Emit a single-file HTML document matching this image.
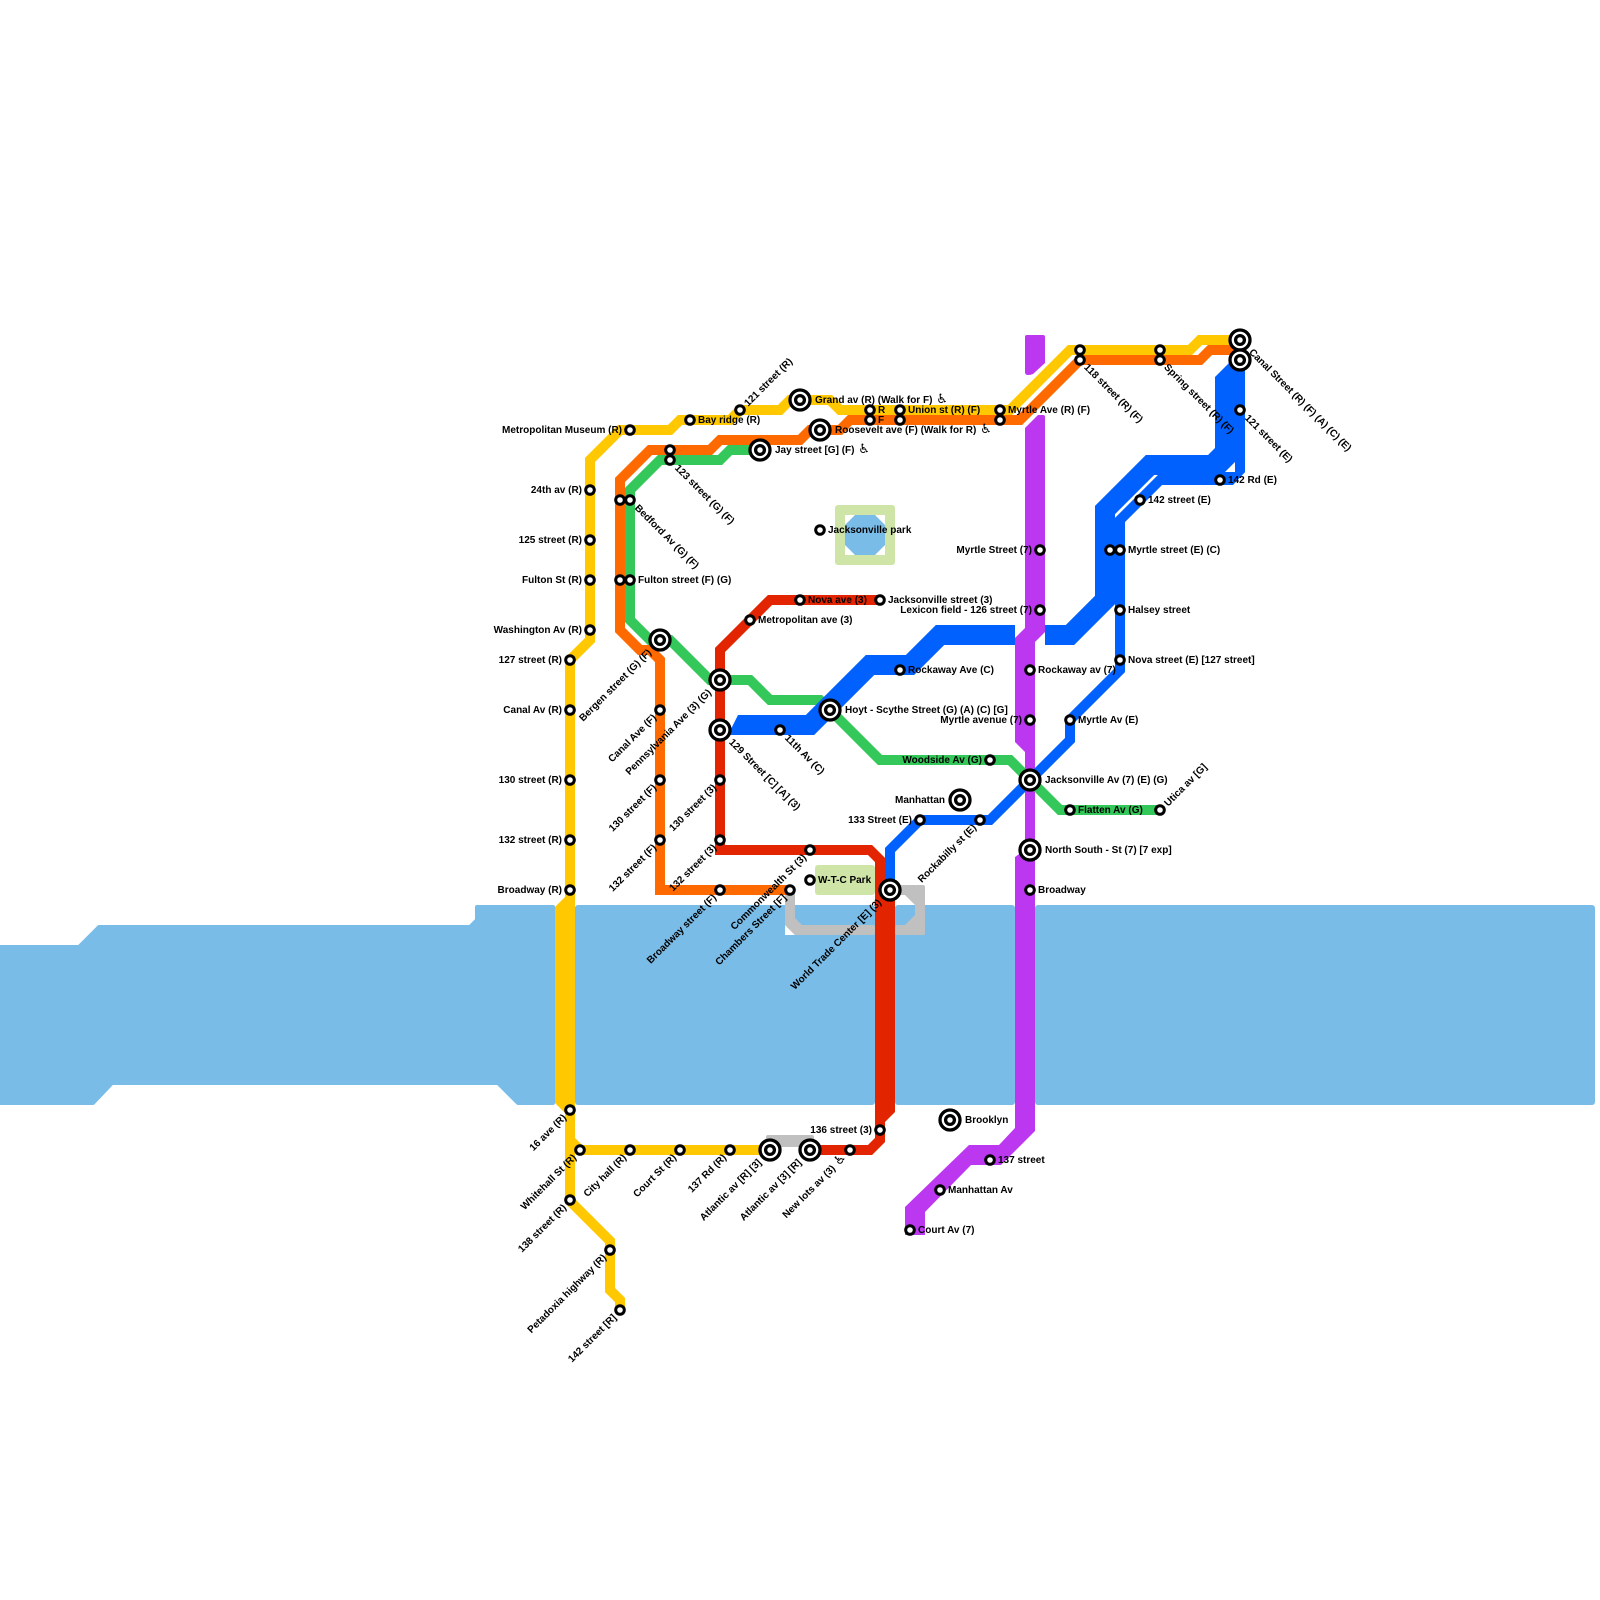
<!DOCTYPE html>
<html><head><meta charset="utf-8">
<style>
html,body{margin:0;padding:0;background:#fff}
svg{display:block}
text{font-family:"Liberation Sans",Arial,sans-serif;font-size:10px;font-weight:bold;fill:#000}
.a{font-family:"DejaVu Sans",sans-serif;font-weight:normal;font-size:13px}
.l{fill:none;stroke-width:10;stroke-linejoin:miter;stroke-linecap:butt}
.s{fill:#fff;stroke:#000;stroke-width:3}
.r text{text-anchor:end}
</style></head><body>
<svg xmlns="http://www.w3.org/2000/svg" width="1600" height="1600" viewBox="0 0 1600 1600">
<rect width="1600" height="1600" fill="#fff"/>
<!-- water -->
<g fill="#79bce8">
<path d="M-5 947H79L99 927H470L477 920V907H553V1103H518L498 1083H112L93 1103H-5Z" stroke="#79bce8" stroke-width="4" stroke-linejoin="round"/>
<rect x="575" y="905" width="300" height="200" rx="3"/>
<rect x="895" y="905" width="120" height="200" rx="3"/>
<rect x="1035" y="905" width="560" height="200" rx="3"/>
</g>
<!-- parks -->
<rect x="835" y="505" width="60" height="60" rx="3" fill="#cfe5a7"/>
<rect x="845" y="515" width="40" height="40" fill="#fff"/>
<polygon points="855,515 875,515 885,525 885,545 875,555 855,555 845,545 845,525" fill="#79bce8"/>
<rect x="815" y="865" width="60" height="30" rx="3" fill="#cfe5a7"/>
<!-- grey -->
<polygon points="785,925 785,935 795,935" fill="#fff"/>
<g fill="#c0c0c0">
<path d="M885 885H923Q925 885 925 887V933Q925 935 923 935H897Q895 935 895 933V927Q895 925 897 925H905L915 915V905L905 895H885Z"/>
<path d="M785 890H795V918L802 925H873Q875 925 875 927V933Q875 935 873 935H795L785 925Z"/>
<rect x="766" y="1135" width="48" height="12" rx="2"/>
</g>
<!-- purple -->
<g fill="#bc38f0">
<path d="M1025 337Q1025 335 1027 335H1043Q1045 335 1045 337V363L1033 374Q1031 375 1028 375Q1025 375 1025 372Z"/>
<path d="M1025 428L1038 415H1043Q1045 415 1045 417V632L1035 642V1131L1001 1165H971L925 1212V1235H905V1207L969 1145H999L1015 1128V857L1025 850V752L1015 742V638L1025 628Z"/>
<rect x="1025" y="740" width="10" height="120"/>
</g>
<!-- green -->
<path class="l" stroke="#34c759" d="M760 450H730L720 460H660L630 490V620L650 640H670L710 680H750L770 700H820L880 760H1010L1060 810H1160"/>
<!-- yellow -->
<g>
<path class="l" stroke="#ffc800" d="M1240 340H1200L1190 350H1070L1010 410H840L830 400H790L780 410H740L730 420H680L670 430H620L590 460V640L570 660V900"/>
<polygon fill="#ffc800" points="555,907 565,897 575,897 575,1113 565,1113 555,1103"/>
<path class="l" stroke="#ffc800" d="M570 1110V1201L610 1241V1290L620 1300V1312"/>
<path class="l" stroke="#ffc800" d="M570 1140L580 1150H770"/>
</g>
<!-- orange -->
<path class="l" stroke="#ff6a00" d="M1240 350H1210L1200 360H1080L1020 420H850L840 430H810L800 440H720L710 450H650L620 480V630L640 650H650L660 660V890H790"/>
<!-- red -->
<path class="l" stroke="#e32400" d="M880 600H770L720 650V850H870L880 860V1140L870 1150H810"/>
<polygon fill="#e32400" points="875,890 895,890 895,1112 885,1122 875,1122"/>
<!-- blue -->
<g>
<path class="l" stroke="#0061fe" d="M890 890V850L920 820H990L1070 740V720L1120 670V520L1160 480H1230L1240 470V360"/>
<path fill="none" stroke="#0061fe" stroke-width="20" stroke-linejoin="miter" d="M1045 635H1070L1105 600V510L1150 465H1205"/>
<polygon fill="#0061fe" points="1215,377 1229,363 1245,363 1245,472 1233,485 1180,485 1180,455 1208,455 1215,448"/>
<polygon fill="#fff" points="1235,462 1225,472 1235,472"/>
<path fill="none" stroke="#0061fe" stroke-width="20" stroke-linejoin="miter" d="M1015 635H940L910 665H870L810 725H738"/>
<polygon fill="#0061fe" points="738,715 745,715 745,735 728,735"/>
</g>
<!-- small stations -->
<g class="s">
<circle cx="630" cy="430" r="4.3"/><circle cx="690" cy="420" r="4.3"/><circle cx="740" cy="410" r="4.3"/>
<circle cx="870" cy="410" r="4.3"/><circle cx="870" cy="420" r="4.3"/><circle cx="900" cy="410" r="4.3"/><circle cx="900" cy="420" r="4.3"/>
<circle cx="1000" cy="410" r="4.3"/><circle cx="1000" cy="420" r="4.3"/><circle cx="1080" cy="350" r="4.3"/><circle cx="1080" cy="360" r="4.3"/>
<circle cx="1160" cy="350" r="4.3"/><circle cx="1160" cy="360" r="4.3"/><circle cx="670" cy="450" r="4.3"/><circle cx="670" cy="460" r="4.3"/>
<circle cx="620" cy="500" r="4.3"/><circle cx="630" cy="500" r="4.3"/><circle cx="620" cy="580" r="4.3"/><circle cx="630" cy="580" r="4.3"/>
<circle cx="590" cy="490" r="4.3"/><circle cx="590" cy="540" r="4.3"/><circle cx="590" cy="580" r="4.3"/><circle cx="590" cy="630" r="4.3"/>
<circle cx="570" cy="660" r="4.3"/><circle cx="570" cy="710" r="4.3"/><circle cx="570" cy="780" r="4.3"/><circle cx="570" cy="840" r="4.3"/><circle cx="570" cy="890" r="4.3"/>
<circle cx="570" cy="1110" r="4.3"/><circle cx="580" cy="1150" r="4.3"/><circle cx="630" cy="1150" r="4.3"/><circle cx="680" cy="1150" r="4.3"/><circle cx="730" cy="1150" r="4.3"/>
<circle cx="850" cy="1150" r="4.3"/><circle cx="880" cy="1130" r="4.3"/><circle cx="570" cy="1200" r="4.3"/><circle cx="610" cy="1250" r="4.3"/><circle cx="620" cy="1310" r="4.3"/>
<circle cx="1240" cy="410" r="4.3"/><circle cx="1220" cy="480" r="4.3"/><circle cx="1140" cy="500" r="4.3"/><circle cx="1110" cy="550" r="4.3"/><circle cx="1120" cy="550" r="4.3"/>
<circle cx="1120" cy="610" r="4.3"/><circle cx="1120" cy="660" r="4.3"/><circle cx="1070" cy="720" r="4.3"/><circle cx="1070" cy="810" r="4.3"/><circle cx="1160" cy="810" r="4.3"/>
<circle cx="1030" cy="890" r="4.3"/><circle cx="1030" cy="670" r="4.3"/><circle cx="1030" cy="720" r="4.3"/><circle cx="1040" cy="610" r="4.3"/><circle cx="1040" cy="550" r="4.3"/>
<circle cx="880" cy="600" r="4.3"/><circle cx="800" cy="600" r="4.3"/><circle cx="750" cy="620" r="4.3"/><circle cx="820" cy="530" r="4.3"/><circle cx="900" cy="670" r="4.3"/>
<circle cx="990" cy="760" r="4.3"/><circle cx="920" cy="820" r="4.3"/><circle cx="980" cy="820" r="4.3"/><circle cx="810" cy="880" r="4.3"/><circle cx="810" cy="850" r="4.3"/>
<circle cx="790" cy="890" r="4.3"/><circle cx="720" cy="890" r="4.3"/><circle cx="720" cy="840" r="4.3"/><circle cx="720" cy="780" r="4.3"/><circle cx="660" cy="840" r="4.3"/>
<circle cx="660" cy="780" r="4.3"/><circle cx="660" cy="710" r="4.3"/><circle cx="780" cy="730" r="4.3"/><circle cx="990" cy="1160" r="4.3"/><circle cx="940" cy="1190" r="4.3"/><circle cx="910" cy="1230" r="4.3"/>
</g>
<!-- interchanges -->
<g fill="#fff" stroke="#000" stroke-width="3.3">
<circle cx="1240" cy="340" r="10"/><circle cx="1240" cy="340" r="4.4"/>
<circle cx="1240" cy="360" r="10"/><circle cx="1240" cy="360" r="4.4"/>
<circle cx="800" cy="400" r="10"/><circle cx="800" cy="400" r="4.4"/>
<circle cx="820" cy="430" r="10"/><circle cx="820" cy="430" r="4.4"/>
<circle cx="760" cy="450" r="10"/><circle cx="760" cy="450" r="4.4"/>
<circle cx="660" cy="640" r="10"/><circle cx="660" cy="640" r="4.4"/>
<circle cx="720" cy="680" r="10"/><circle cx="720" cy="680" r="4.4"/>
<circle cx="720" cy="730" r="10"/><circle cx="720" cy="730" r="4.4"/>
<circle cx="830" cy="710" r="10"/><circle cx="830" cy="710" r="4.4"/>
<circle cx="1030" cy="780" r="10"/><circle cx="1030" cy="780" r="4.4"/>
<circle cx="1030" cy="850" r="10"/><circle cx="1030" cy="850" r="4.4"/>
<circle cx="960" cy="800" r="10"/><circle cx="960" cy="800" r="4.4"/>
<circle cx="890" cy="890" r="10"/><circle cx="890" cy="890" r="4.4"/>
<circle cx="770" cy="1150" r="10"/><circle cx="770" cy="1150" r="4.4"/>
<circle cx="810" cy="1150" r="10"/><circle cx="810" cy="1150" r="4.4"/>
<circle cx="950" cy="1120" r="10"/><circle cx="950" cy="1120" r="4.4"/>
</g>
<!-- right labels -->
<g>
<text x="698" y="423">Bay ridge (R)</text>
<text x="815" y="403">Grand av (R) (Walk for F) <tspan class="a" dx="1">♿</tspan></text>
<text x="878" y="413">R</text><text x="878" y="423">F</text>
<text x="908" y="413">Union st (R) (F)</text>
<text x="1008" y="413">Myrtle Ave (R) (F)</text>
<text x="835" y="433">Roosevelt ave (F) (Walk for R) <tspan class="a" dx="1">♿</tspan></text>
<text x="775" y="453">Jay street [G] (F) <tspan class="a" dx="1">♿</tspan></text>
<text x="638" y="583">Fulton street (F) (G)</text>
<text x="1228" y="483">142 Rd (E)</text>
<text x="1148" y="503">142 street (E)</text>
<text x="1128" y="553">Myrtle street (E) (C)</text>
<text x="1128" y="613">Halsey street</text>
<text x="1128" y="663">Nova street (E) [127 street]</text>
<text x="1078" y="723">Myrtle Av (E)</text>
<text x="1045" y="783">Jacksonville Av (7) (E) (G)</text>
<text x="1078" y="813">Flatten Av (G)</text>
<text x="1045" y="853">North South - St (7) [7 exp]</text>
<text x="1038" y="893">Broadway</text>
<text x="1038" y="673">Rockaway av (7)</text>
<text x="888" y="603">Jacksonville street (3)</text>
<text x="808" y="603">Nova ave (3)</text>
<text x="758" y="623">Metropolitan ave (3)</text>
<text x="828" y="533">Jacksonville park</text>
<text x="908" y="673">Rockaway Ave (C)</text>
<text x="845" y="713">Hoyt - Scythe Street (G) (A) (C) [G]</text>
<text x="818" y="883">W-T-C Park</text>
<text x="965" y="1123">Brooklyn</text>
<text x="998" y="1163">137 street</text>
<text x="948" y="1193">Manhattan Av</text>
<text x="918" y="1233">Court Av (7)</text>
</g>
<!-- left labels -->
<g class="r">
<text x="622" y="433">Metropolitan Museum (R)</text>
<text x="582" y="493">24th av (R)</text>
<text x="582" y="543">125 street (R)</text>
<text x="582" y="583">Fulton St (R)</text>
<text x="582" y="633">Washington Av (R)</text>
<text x="562" y="663">127 street (R)</text>
<text x="562" y="713">Canal Av (R)</text>
<text x="562" y="783">130 street (R)</text>
<text x="562" y="843">132 street (R)</text>
<text x="562" y="893">Broadway (R)</text>
<text x="872" y="1133">136 street (3)</text>
<text x="1022" y="723">Myrtle avenue (7)</text>
<text x="1032" y="613">Lexicon field - 126 street (7)</text>
<text x="1032" y="553">Myrtle Street (7)</text>
<text x="982" y="763">Woodside Av (G)</text>
<text x="945" y="803">Manhattan</text>
<text x="912" y="823">133 Street (E)</text>
</g>
<!-- up-right labels -->
<g>
<text transform="translate(740 410) rotate(-45)" x="8" y="3.5">121 street (R)</text>
<text transform="translate(1160 810) rotate(-45)" x="8" y="3.5">Utica av [G]</text>
</g>
<!-- down-right labels -->
<g>
<text transform="translate(670 460) rotate(45)" x="9" y="3">123 street (G) (F)</text>
<text transform="translate(630 500) rotate(45)" x="9" y="3">Bedford Av (G) (F)</text>
<text transform="translate(1080 360) rotate(45)" x="8" y="3">118 street (R) (F)</text>
<text transform="translate(1160 360) rotate(45)" x="8" y="3">Spring street (R) (F)</text>
<text transform="translate(1240 340) rotate(45)" x="15" y="3">Canal Street (R) (F) (A) (C) (E)</text>
<text transform="translate(1240 410) rotate(45)" x="9" y="3">121 street (E)</text>
<text transform="translate(720 730) rotate(45)" x="15" y="3">129 Street [C] [A] (3)</text>
<text transform="translate(780 730) rotate(45)" x="9" y="3">11th Av (C)</text>
</g>
<!-- down-left labels -->
<g class="r">
<text transform="translate(570 1110) rotate(-45)" x="-8" y="3.5">16 ave (R)</text>
<text transform="translate(580 1150) rotate(-45)" x="-8" y="3.5">Whitehall St (R)</text>
<text transform="translate(630 1150) rotate(-45)" x="-8" y="3.5">City hall (R)</text>
<text transform="translate(680 1150) rotate(-45)" x="-8" y="3.5">Court St (R)</text>
<text transform="translate(730 1150) rotate(-45)" x="-8" y="3.5">137 Rd (R)</text>
<text transform="translate(770 1150) rotate(-45)" x="-15" y="3.5">Atlantic av [R] [3]</text>
<text transform="translate(810 1150) rotate(-45)" x="-15" y="3.5">Atlantic av [3] [R]</text>
<text transform="translate(850 1150) rotate(-45)" x="-8" y="3.5">New lots av (3) <tspan class="a" dx="1">♿</tspan></text>
<text transform="translate(570 1200) rotate(-45)" x="-8" y="3.5">138 street (R)</text>
<text transform="translate(610 1250) rotate(-45)" x="-8" y="3.5">Petadoxia highway (R)</text>
<text transform="translate(620 1310) rotate(-45)" x="-8" y="3.5">142 street [R]</text>
<text transform="translate(980 820) rotate(-45)" x="-8" y="3.5">Rockabilly st (E)</text>
<text transform="translate(810 850) rotate(-45)" x="-8" y="3.5">Commonwealth St (3)</text>
<text transform="translate(790 890) rotate(-45)" x="-8" y="3.5">Chambers Street [F]</text>
<text transform="translate(720 890) rotate(-45)" x="-8" y="3.5">Broadway street (F)</text>
<text transform="translate(890 890) rotate(-45)" x="-15" y="3.5">World Trade Center [E] (3)</text>
<text transform="translate(720 840) rotate(-45)" x="-8" y="3.5">132 street (3)</text>
<text transform="translate(720 780) rotate(-45)" x="-8" y="3.5">130 street (3)</text>
<text transform="translate(660 840) rotate(-45)" x="-8" y="3.5">132 street (F)</text>
<text transform="translate(660 780) rotate(-45)" x="-8" y="3.5">130 street (F)</text>
<text transform="translate(660 710) rotate(-45)" x="-8" y="3.5">Canal Ave (F)</text>
<text transform="translate(720 680) rotate(-45)" x="-15" y="3.5">Pennsylvania Ave (3) (G)</text>
<text transform="translate(660 640) rotate(-45)" x="-15" y="3.5">Bergen street (G) (F)</text>
</g>
</svg>
</body></html>
